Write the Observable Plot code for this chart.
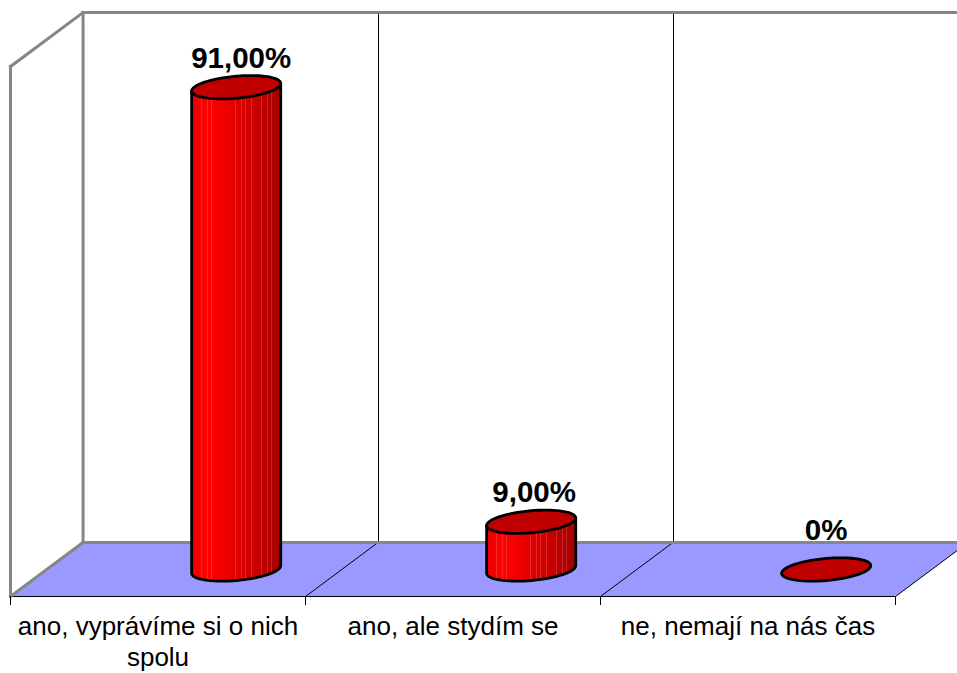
<!DOCTYPE html>
<html><head><meta charset="utf-8">
<script src="https://cdn.jsdelivr.net/npm/d3@7"></script>
<script src="https://cdn.jsdelivr.net/npm/@observablehq/plot@0.6"></script>
<style>html,body{margin:0;padding:0;background:#fff;overflow:hidden}svg{display:block}</style>
</head><body><div id="chart"></div>
<script>
const categories = ["ano, vyprávíme si o nich\nspolu", "ano, ale stydím se", "ne, nemají na nás čas"];
const values = [91, 9, 0];
const valueLabels = ["91,00%", "9,00%", "0%"];
const stripeStops = [0.12, 0.18, 0.23, 0.49, 0.56, 0.61, 0.67, 0.79, 0.86, 0.91];
const shadeStops = ["#e60000", "#ff0000", "#f40000", "#e00000", "#d00000", "#bb0000", "#a40000"];

// 3D projection in data units: x in categories, y in percent
const depthX = 0.246, depthY = 10.2, rightEnd = 3.21;
const barOffset = 0.765, baseY = -depthY / 2;
const radX = 0.151, tilt = 0.72, radY = 2.08;
const labelShift = [[0.017, 5.5], [0.01, 5.6], [0, 7.4]];

const ell = (cx, cy) => d3.range(0, 73).map(k => {
  const t = k / 72 * 2 * Math.PI;
  return {x: cx + radX * Math.cos(t), y: cy + tilt * Math.cos(t) + radY * Math.sin(t)};
});
const bars = values.map((v, i) => ({i, v, cx: i + barOffset, top: baseY + v}));
const slices = bars.flatMap(b => d3.range(90).map(k => {
  const f0 = k / 90, f1 = (k + 1) / 90, u = (f0 + f1) - 1;
  const base = d3.piecewise(d3.interpolateRgb, shadeStops)((k + 0.5) / 90);
  const striped = stripeStops.some(s => Math.abs(s - (k + 0.5) / 90) < 0.0056);
  return {
    x1: b.cx + radX * (2 * f0 - 1), x2: b.cx + radX * (2 * f1 - 1),
    y1: baseY + tilt * u - radY * Math.sqrt(Math.max(0, 1 - u * u)),
    y2: b.top + tilt * u,
    color: striped ? d3.interpolateRgb(base, "#ffffff")(0.16) : base
  };
}));
const outlines = bars.filter(b => b.v > 0).flatMap(b => {
  const arc = d3.range(0, 37).map(k => {
    const t = Math.PI + k / 36 * Math.PI;
    return {b: b.i, x: b.cx + radX * Math.cos(t), y: baseY + tilt * Math.cos(t) + radY * Math.sin(t)};
  });
  return [{b: b.i, x: b.cx - radX, y: b.top - tilt}, ...arc, {b: b.i, x: b.cx + radX, y: b.top + tilt}];
});
const tops = bars.flatMap(b => ell(b.cx, b.top).map(p => ({...p, b: b.i})));
const floor = [[0, -depthY], [depthX, 0], [rightEnd, 0], [rightEnd, -depthY * (1 - (rightEnd - 3) / depthX)], [3, -depthY], [0, -depthY]];
const seg = (a, c) => ({x1: a[0], y1: a[1], x2: c[0], y2: c[1]});
const greyWalls = [
  seg([depthX, 100], [rightEnd, 100]), seg([depthX, 0], [rightEnd, 0]), seg([depthX, 0], [depthX, 100]),
  seg([0, -depthY], [0, 100 - depthY]), seg([0, 100 - depthY], [depthX, 100]), seg([0, -depthY], [depthX, 0])
];
const thinDiagonals = [
  seg([1, -depthY], [1 + depthX, 0]), seg([2, -depthY], [2 + depthX, 0]),
  seg([3, -depthY], floor[3])
];
const thinStraight = [
  seg([1 + depthX, 0], [1 + depthX, 100]), seg([2 + depthX, 0], [2 + depthX, 100]),
  seg([0, -depthY], [3, -depthY])
];
const font = "'Liberation Sans', Arial, sans-serif";

const chart = Plot.plot({
  width: 957, height: 673,
  marginLeft: 10, marginRight: 62, marginTop: 12, marginBottom: 77,
  style: {fontFamily: font, background: "#fff"},
  x: {domain: [0, 3], axis: null},
  y: {domain: [-depthY, 100], axis: null},
  color: {type: "identity"},
  marks: [
    Plot.line(floor, {x: d => d[0], y: d => d[1], fill: "#9999ff", stroke: "none"}),
    Plot.link(thinDiagonals, {x1: "x1", y1: "y1", x2: "x2", y2: "y2", stroke: "#000", strokeWidth: 1}),
    Plot.link(thinStraight, {x1: "x1", y1: "y1", x2: "x2", y2: "y2", stroke: "#000", strokeWidth: 1, shapeRendering: "crispEdges"}),
    Plot.link(greyWalls, {x1: "x1", y1: "y1", x2: "x2", y2: "y2", stroke: "#868686", strokeWidth: 3, strokeLinecap: "square"}),
    Plot.axisX({ticks: [0, 1, 2, 3], tickSize: 9, stroke: "#000", tickFormat: () => ""}),
    Plot.axisX({
      ticks: [0.5, 1.5, 2.5], tickSize: 0, tickPadding: 17, fontSize: 26, lineHeight: 1.18, fill: "#000",
      tickFormat: d => categories[d - 0.5], textOverflow: null, lineWidth: Infinity
    }),
    Plot.rect(slices, {x1: "x1", x2: "x2", y1: "y1", y2: "y2", fill: "color", shapeRendering: "crispEdges"}),
    Plot.line(outlines, {x: "x", y: "y", z: "b", stroke: "#000", strokeWidth: 2.8, fill: "none"}),
    Plot.line(tops, {x: "x", y: "y", z: "b", fill: "#c00000", stroke: "#000", strokeWidth: 2.8}),
    Plot.text(bars, {
      x: d => d.cx + labelShift[d.i][0], y: d => d.top + labelShift[d.i][1],
      text: d => valueLabels[d.i], fontSize: 29.5, fontWeight: "bold", fill: "#000", textAnchor: "middle"
    })
  ]
});
document.getElementById("chart").append(chart);
</script></body></html>
